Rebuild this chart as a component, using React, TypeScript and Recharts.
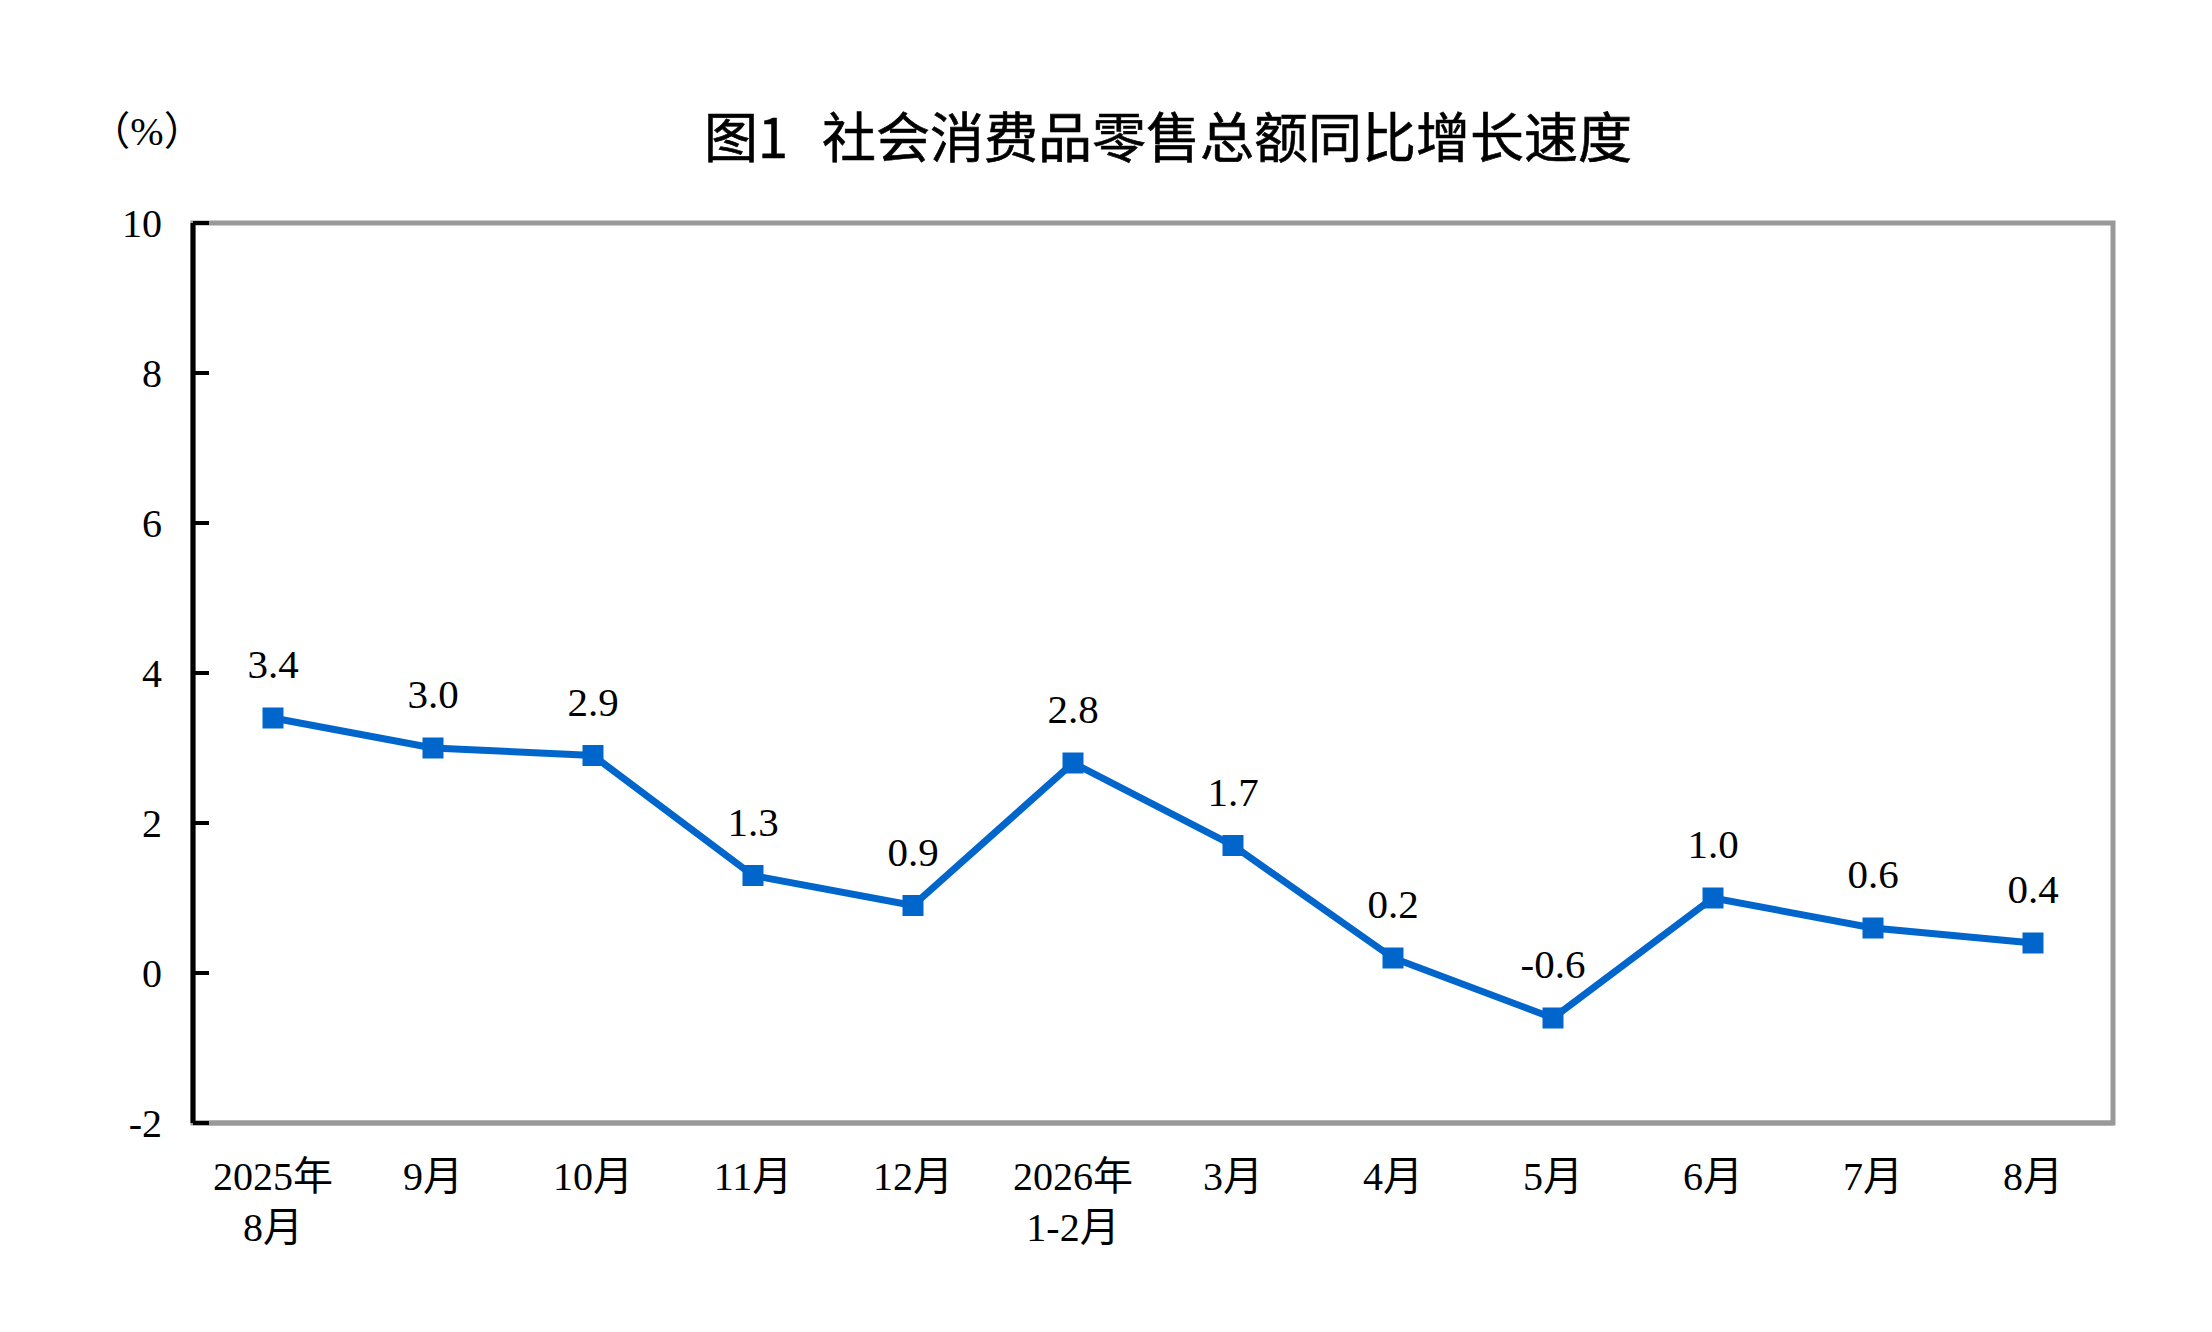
import React from 'react';
import { LineChart, Line, XAxis, YAxis, LabelList, ReferenceArea } from 'recharts';

const categories = ['2025年\n8月', '9月', '10月', '11月', '12月', '2026年\n1-2月', '3月', '4月', '5月', '6月', '7月', '8月'];
const growth = [3.4, 3.0, 2.9, 1.3, 0.9, 2.8, 1.7, 0.2, -0.6, 1.0, 0.6, 0.4];
const yTicks = [-2, 0, 2, 4, 6, 8, 10];
const titleLead = '图1';
const titleText = '社会消费品零售总额同比增长速度';
const unitText = '（%）';

const data = categories.map((c, i) => ({ month: c, value: growth[i] }));

const SERIF = "'Liberation Serif', 'Times New Roman', 'Noto Sans CJK SC', serif";
const SANS = "'Noto Sans CJK SC', 'Noto Sans', sans-serif";
const BLUE = '#0066CC';
const GRAY = '#999999';

const SquareDot = (props: any) => {
  const { cx, cy, index } = props;
  if (cx == null || cy == null) return null;
  return <rect key={`d${index}`} x={cx - 10.5} y={cy - 10.5} width={21} height={21} fill={BLUE} />;
};

const XTick = (props: any) => {
  const { x, y, payload } = props;
  const lines = String(payload.value).split('\n');
  return (
    <g>
      <text x={x} y={y} textAnchor="middle" fontFamily={SERIF} fontSize={40} fill="#000">
        {lines.map((l, i) => (
          <tspan key={i} x={x} dy={i === 0 ? 67 : 51}>
            {l}
          </tspan>
        ))}
      </text>
    </g>
  );
};

export default function App() {
  return (
    <div style={{ position: 'relative', width: 2196, height: 1316, background: '#fff' }}>
      <div
        style={{
          position: 'absolute',
          left: 1160,
          top: 100,
          transform: 'translateX(-50%)',
          whiteSpace: 'nowrap',
          fontFamily: SANS,
          fontSize: 54,
          lineHeight: '54px',
          fontWeight: 400,
          color: '#000',
          WebkitTextStroke: '0.6px #000',
        }}
      >
        <span>{titleLead}</span>
        <span style={{ marginLeft: 34 }}>{titleText}</span>
      </div>
      <div
        style={{
          position: 'absolute',
          left: 139,
          top: 100,
          transform: 'translateX(-50%)',
          whiteSpace: 'nowrap',
          fontFamily: SERIF,
          fontSize: 40,
          lineHeight: '48px',
          color: '#000',
        }}
      >
        {unitText}
      </div>
      <LineChart
        width={2196}
        height={1316}
        data={data}
        margin={{ top: 215, right: 91, bottom: 81, left: 85 }}
      >
        <ReferenceArea y1={-2} y2={10} fill="none" fillOpacity={0} stroke={GRAY} strokeWidth={5} />
        <XAxis
          dataKey="month"
          type="category"
          scale="band"
          interval={0}
          tickLine={false}
          tickSize={0}
          tickMargin={0}
          height={120}
          axisLine={{ stroke: GRAY, strokeWidth: 5 }}
          tick={<XTick />}
        />
        <YAxis
          domain={[-2, 10]}
          ticks={yTicks}
          interval={0}
          width={100}
          tickSize={-16}
          tickMargin={47}
          tickLine={{ stroke: '#000', strokeWidth: 4 }}
          axisLine={{ stroke: '#000', strokeWidth: 5 }}
          tick={{ fill: '#000', fontSize: 40, fontFamily: SERIF }}
        />
        <Line
          dataKey="value"
          stroke={BLUE}
          strokeWidth={7}
          dot={SquareDot}
          activeDot={false}
          isAnimationActive={false}
        >
          <LabelList
            dataKey="value"
            position="top"
            offset={40}
            formatter={(v: any) => Number(v).toFixed(1)}
            fill="#000"
            fontSize={41}
            fontFamily={SERIF}
          />
        </Line>
      </LineChart>
    </div>
  );
}
